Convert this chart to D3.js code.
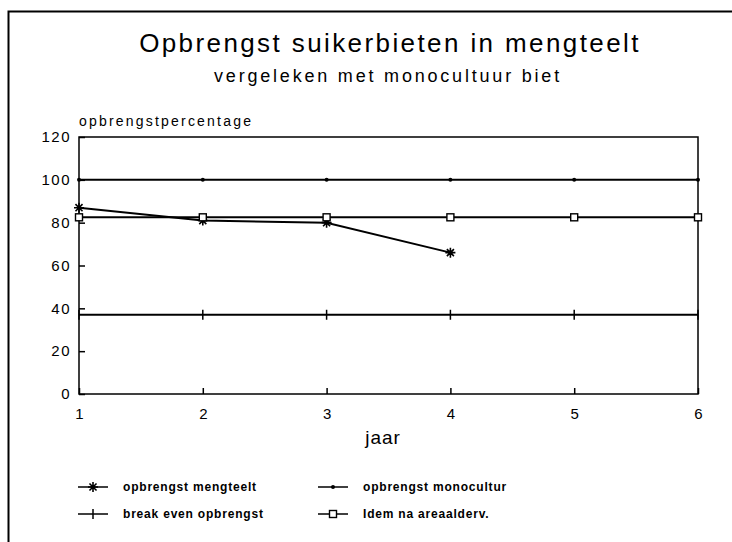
<!DOCTYPE html>
<html>
<head>
<meta charset="utf-8">
<script src="https://cdn.jsdelivr.net/npm/d3@7"></script>
<style>
  body { margin: 0; background: #fff; }
  text { font-family: 'Liberation Sans', Arial, sans-serif; fill: #000; }
</style>
</head>
<body>
<script>
const width = 732, height = 542
const years = [1, 2, 3, 4, 5, 6]
const yTicks = [0, 20, 40, 60, 80, 100, 120]
const mengteelt = [87, 81, 80, 66]
const monocultuur = [100, 100, 100, 100, 100, 100]
const breakEven = [37, 37, 37, 37, 37, 37]
const areaal = [82.5, 82.5, 82.5, 82.5, 82.5, 82.5]

const m = { left: 79, right: 698, top: 137, bottom: 394 }

const svg = d3.select('body').append('svg')
  .attr('width', width)
  .attr('height', height)

// outer frame (left + top only visible)
svg.append('path')
  .attr('d', `M8.5,${height} V11.5 H${width}`)
  .attr('fill', 'none').attr('stroke', '#000').attr('stroke-width', 2)

const x = d3.scaleLinear().domain([1, 6]).range([m.left, m.right])
const y = d3.scaleLinear().domain([0, 120]).range([m.bottom, m.top])

svg.append('text')
  .attr('x', 390).attr('y', 52)
  .attr('text-anchor', 'middle')
  .attr('font-size', 26)
  .attr('font-weight', 300)
  .attr('letter-spacing', 2.4)
  .text('Opbrengst suikerbieten in mengteelt')

svg.append('text')
  .attr('x', 388).attr('y', 82)
  .attr('text-anchor', 'middle')
  .attr('font-size', 18)
  .attr('letter-spacing', 2.8)
  .text('vergeleken met monocultuur biet')

svg.append('text')
  .attr('x', 79).attr('y', 126)
  .attr('font-size', 14)
  .attr('letter-spacing', 2.2)
  .text('opbrengstpercentage')

// plot frame
svg.append('rect')
  .attr('x', m.left).attr('y', m.top)
  .attr('width', m.right - m.left).attr('height', m.bottom - m.top)
  .attr('fill', 'none').attr('stroke', '#000').attr('stroke-width', 1.5)

// y axis ticks + labels
const yAxis = d3.axisLeft(y).tickValues(yTicks).tickSize(-6).tickPadding(8)
const gy = svg.append('g').attr('transform', `translate(${m.left},0)`).call(yAxis)
gy.select('.domain').remove()
gy.selectAll('line').attr('stroke-width', 1.5)
gy.selectAll('text').attr('font-size', 15).attr('letter-spacing', 1.5)
  .attr('font-family', "'Liberation Sans', Arial, sans-serif")

// x axis
const xAxis = d3.axisBottom(x).tickValues(years).tickFormat(d3.format('d')).tickSize(-6).tickPadding(14)
const gx = svg.append('g').attr('transform', `translate(0,${m.bottom})`).call(xAxis)
gx.select('.domain').remove()
gx.selectAll('line').attr('stroke-width', 1.5)
gx.selectAll('text').attr('font-size', 15)
  .attr('font-family', "'Liberation Sans', Arial, sans-serif")

svg.append('text')
  .attr('x', 383).attr('y', 444)
  .attr('text-anchor', 'middle')
  .attr('font-size', 19)
  .attr('letter-spacing', 1)
  .text('jaar')

const line = d3.line().x((d, i) => x(years[i])).y(d => y(d))

const series = [
  { name: 'opbrengst mengteelt', values: mengteelt, marker: 'star' },
  { name: 'opbrengst monocultur', values: monocultuur, marker: 'dot' },
  { name: 'break even opbrengst', values: breakEven, marker: 'plus' },
  { name: 'Idem na areaalderv.', values: areaal, marker: 'square' }
]

function drawMarker (g, type, cx, cy) {
  if (type === 'star') {
    const r = 5
    const p = []
    for (let k = 0; k < 4; k++) {
      const a = k * Math.PI / 4
      p.push(`M${cx - r * Math.cos(a)},${cy - r * Math.sin(a)}L${cx + r * Math.cos(a)},${cy + r * Math.sin(a)}`)
    }
    g.append('path').attr('d', p.join('')).attr('stroke', '#000').attr('stroke-width', 1.6)
  } else if (type === 'dot') {
    g.append('circle').attr('cx', cx).attr('cy', cy).attr('r', 2).attr('fill', '#000')
  } else if (type === 'plus') {
    g.append('path').attr('d', `M${cx},${cy - 5}V${cy + 5}`).attr('stroke', '#000').attr('stroke-width', 1.5)
  } else if (type === 'square') {
    g.append('rect').attr('x', cx - 3.5).attr('y', cy - 3.5).attr('width', 7).attr('height', 7)
      .attr('fill', '#fff').attr('stroke', '#000').attr('stroke-width', 1.4)
  }
}

const gs = svg.append('g')
series.forEach(s => {
  gs.append('path')
    .attr('d', line(s.values))
    .attr('fill', 'none').attr('stroke', '#000').attr('stroke-width', 2)
  s.values.forEach((v, i) => drawMarker(gs, s.marker, x(years[i]), y(v)))
})

// legend
const legendPos = [[78, 487], [318, 487], [78, 514], [318, 514]]
series.forEach((s, i) => {
  const [lx, ly] = legendPos[i]
  const g = svg.append('g')
  g.append('line').attr('x1', lx).attr('x2', lx + 30).attr('y1', ly).attr('y2', ly)
    .attr('stroke', '#000').attr('stroke-width', 1.5)
  drawMarker(g, s.marker, lx + 15, ly)
  g.append('text').attr('x', lx + 45).attr('y', ly + 4)
    .attr('font-size', 12).attr('font-weight', 'bold').attr('letter-spacing', 0.8)
    .text(s.name)
})
</script>
</body>
</html>
